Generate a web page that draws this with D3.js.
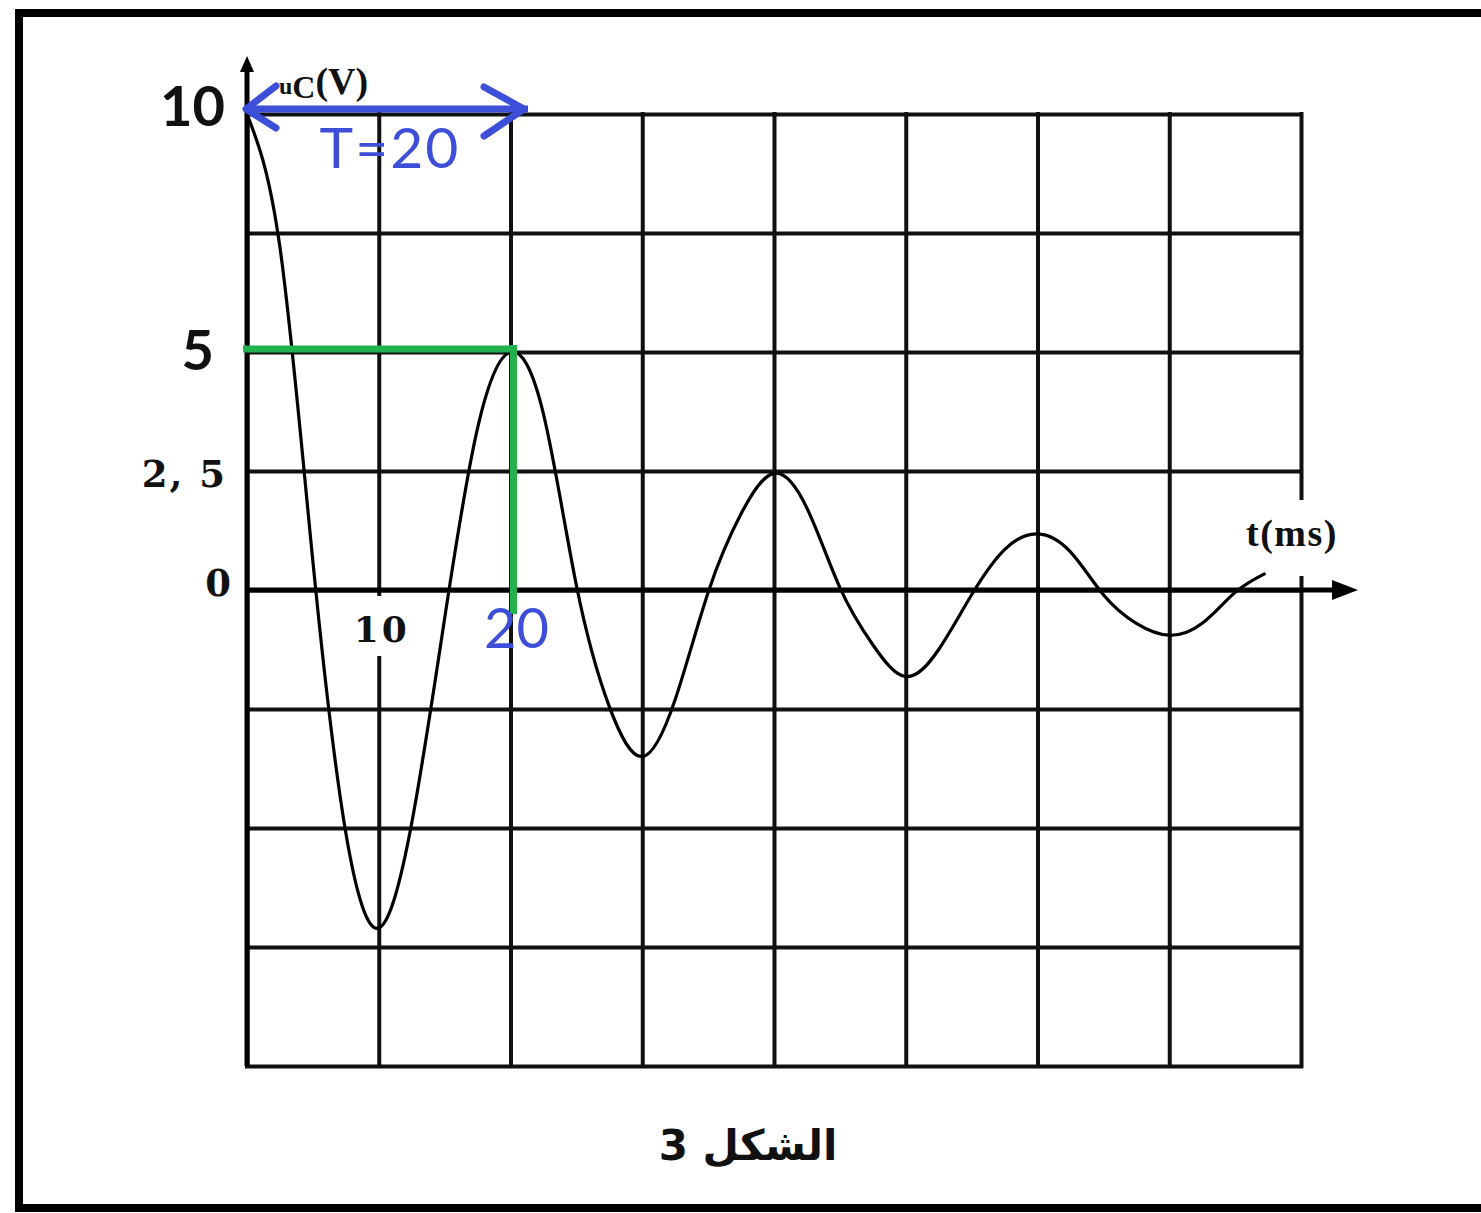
<!DOCTYPE html>
<html>
<head>
<meta charset="utf-8">
<script src="https://cdn.jsdelivr.net/npm/d3@7"></script>
<style>
  html, body { margin: 0; padding: 0; background: #fff; }
  svg { display: block; }
</style>
</head>
<body>
<svg id="chart" width="1481" height="1213"></svg>
<script>
// ---- data (every 2.5 ms) ----
const timeMs = [0, 2.5, 5, 7.5, 10, 12.5, 15, 17.5, 20, 22.5, 25, 27.5, 30, 32.5, 35, 37.5, 40,
  42.5, 45, 47.5, 50, 52.5, 55, 57.5, 60, 62.5, 65, 67.5, 70, 72.5, 75, 77.3];
const ucVolts = [10, 7.2, 0.6, -5.1, -7.1, -4.9, -0.6, 3.4, 5, 3.7, 0.1, -2.45, -3.5, -2.3, -0.05, 1.6, 2.45,
  1.72, 0.05, -1.15, -1.82, -1.25, -0.1, 0.85, 1.18, 0.8, -0.1, -0.7, -0.95, -0.7, -0.05, 0.35];
const gridTimes = [0, 10, 20, 30, 40, 50, 60, 70, 80];
const gridVolts = [-10, -7.5, -5, -2.5, 0, 2.5, 5, 7.5, 10];
const yTickValues = [10, 5, 2.5, 0];
const yTickLabels = ["10", "5", "2, 5", "0"];
const xTickValues = [10, 20];
const xTickLabels = ["10", "20"];
const periodMs = 20;
const periodLabel = "T=20";
const yAxisTitle = ["u", "C", "(V)"];
const xAxisTitle = "t(ms)";
const figureTitle = "الشكل 3";

// ---- layout ----
const svg = d3.select("#chart");
const x = d3.scaleLinear().domain([0, 80]).range([247, 1301]);
const y = d3.scaleLinear().domain([-10, 10]).range([1066, 114]);
const BLUE = "#3d4fd8", GREEN = "#22b14c";

// outer frame
svg.append("path")
  .attr("d", "M1495,13 H19 V1208 H1495")
  .attr("fill", "none").attr("stroke", "#000").attr("stroke-width", 8);

// grid via axes
const gGridX = svg.append("g").attr("transform", `translate(0,${y(-10)})`)
  .call(d3.axisBottom(x).tickValues(gridTimes).tickSize(-(y(-10) - y(10))).tickFormat(""));
const gGridY = svg.append("g").attr("transform", `translate(${x(0)},0)`)
  .call(d3.axisLeft(y).tickValues(gridVolts).tickSize(-(x(80) - x(0))).tickFormat(""));
[gGridX, gGridY].forEach(g => {
  g.select(".domain").remove();
  g.selectAll(".tick line").attr("stroke", "#111").attr("stroke-width", 4).attr("stroke-linecap", "square");
});

// axes with arrows
svg.append("line").attr("x1", x(0)).attr("x2", x(0)).attr("y1", y(-10)).attr("y2", 68)
  .attr("stroke", "#000").attr("stroke-width", 5);
svg.append("path").attr("d", `M${x(0)},56 l-7,16 h14 Z`).attr("fill", "#000");
svg.append("line").attr("x1", x(0)).attr("x2", 1340).attr("y1", y(0)).attr("y2", y(0))
  .attr("stroke", "#000").attr("stroke-width", 5);
svg.append("path").attr("d", `M1358,${y(0)} l-26,-10 v20 Z`).attr("fill", "#000");

// white patches behind labels
svg.append("rect").attr("x", 350).attr("y", 596).attr("width", 66).attr("height", 60).attr("fill", "#fff");
svg.append("rect").attr("x", 1232).attr("y", 500).attr("width", 122).attr("height", 76).attr("fill", "#fff");

// curve
const pts = timeMs.map((t, i) => [t, ucVolts[i]]);
svg.append("path")
  .datum(pts)
  .attr("d", d3.line().x(d => x(d[0])).y(d => y(d[1])).curve(d3.curveNatural))
  .attr("fill", "none").attr("stroke", "#000").attr("stroke-width", 3.2)
  .attr("stroke-linejoin", "round");

// green guide lines for the peak at T
svg.append("line").attr("x1", 243).attr("x2", x(periodMs) + 6).attr("y1", y(5) - 3).attr("y2", y(5) - 3)
  .attr("stroke", GREEN).attr("stroke-width", 7);
svg.append("line").attr("x1", x(periodMs) + 3).attr("x2", x(periodMs) + 3).attr("y1", y(5) - 7).attr("y2", 614)
  .attr("stroke", GREEN).attr("stroke-width", 7);

// blue period arrow
const ay = 109, ax0 = 244, ax1 = 528;
svg.append("line").attr("x1", ax0).attr("x2", ax1).attr("y1", ay).attr("y2", ay)
  .attr("stroke", BLUE).attr("stroke-width", 7);
svg.append("path").attr("d", `M${ax0 + 32},${ay - 23} L${ax0 + 2},${ay} L${ax0 + 32},${ay + 19}`)
  .attr("fill", "none").attr("stroke", BLUE).attr("stroke-width", 7).attr("stroke-linejoin", "round").attr("stroke-linecap", "round");
svg.append("path").attr("d", `M${ax1 - 44},${ay - 22} L${ax1 - 4},${ay} L${ax1 - 44},${ay + 27}`)
  .attr("fill", "none").attr("stroke", BLUE).attr("stroke-width", 7).attr("stroke-linejoin", "round").attr("stroke-linecap", "round");
svg.append("text").attr("x", 390).attr("y", 168).attr("text-anchor", "middle")
  .attr("font-family", "Lato, 'Open Sans', sans-serif").attr("font-size", 57).attr("fill", BLUE)
  .attr("letter-spacing", 2).text(periodLabel);

// y tick labels
const yLabelStyle = [
  { dx: 225, dy: 12, family: "Lato, sans-serif", size: 56, weight: 700 },
  { dx: 214, dy: 18, family: "Lato, sans-serif", size: 56, weight: 700 },
  { dx: 227, dy: 16, family: "'DejaVu Serif', serif", size: 37, weight: 700, ls: 2 },
  { dx: 231, dy: 6, family: "'DejaVu Serif', serif", size: 37, weight: 700, ls: 0 }
];
yTickValues.forEach((v, i) => {
  const s = yLabelStyle[i];
  svg.append("text").attr("x", s.dx).attr("y", y(v) + s.dy).attr("text-anchor", "end")
    .attr("font-family", s.family).attr("font-size", s.size).attr("font-weight", s.weight)
    .attr("letter-spacing", s.ls || 0)
    .attr("fill", "#111").text(yTickLabels[i]);
});

// x tick labels
svg.append("text").attr("x", x(xTickValues[0]) + 3).attr("y", 642).attr("text-anchor", "middle")
  .attr("font-family", "'DejaVu Serif', serif").attr("font-size", 36).attr("font-weight", 700)
  .attr("letter-spacing", 3).attr("fill", "#111").text(xTickLabels[0]);
svg.append("text").attr("x", x(xTickValues[1]) + 6).attr("y", 648).attr("text-anchor", "middle")
  .attr("font-family", "Lato, sans-serif").attr("font-size", 56).attr("fill", BLUE).text(xTickLabels[1]);

// axis titles
const yt = svg.append("text").attr("x", 279).attr("y", 94)
  .attr("font-family", "'Liberation Serif', serif").attr("font-weight", 700).attr("fill", "#111");
yt.append("tspan").attr("font-size", 24).text(yAxisTitle[0]);
yt.append("tspan").attr("font-size", 32).attr("dy", 4).text(yAxisTitle[1]);
yt.append("tspan").attr("font-size", 38).attr("dy", -4).text(yAxisTitle[2]);

svg.append("text").attr("x", 1292).attr("y", 546).attr("text-anchor", "middle")
  .attr("font-family", "'Liberation Serif', serif").attr("font-size", 38).attr("font-weight", 700)
  .attr("letter-spacing", 1.5).attr("fill", "#111").text(xAxisTitle);

// figure caption
svg.append("text").attr("x", 748).attr("y", 1160).attr("text-anchor", "middle")
  .attr("direction", "rtl").attr("unicode-bidi", "embed")
  .attr("font-family", "'DejaVu Sans', 'Noto Sans', sans-serif").attr("font-size", 42).attr("font-weight", 700)
  .attr("fill", "#111").text(figureTitle);
</script>
</body>
</html>
